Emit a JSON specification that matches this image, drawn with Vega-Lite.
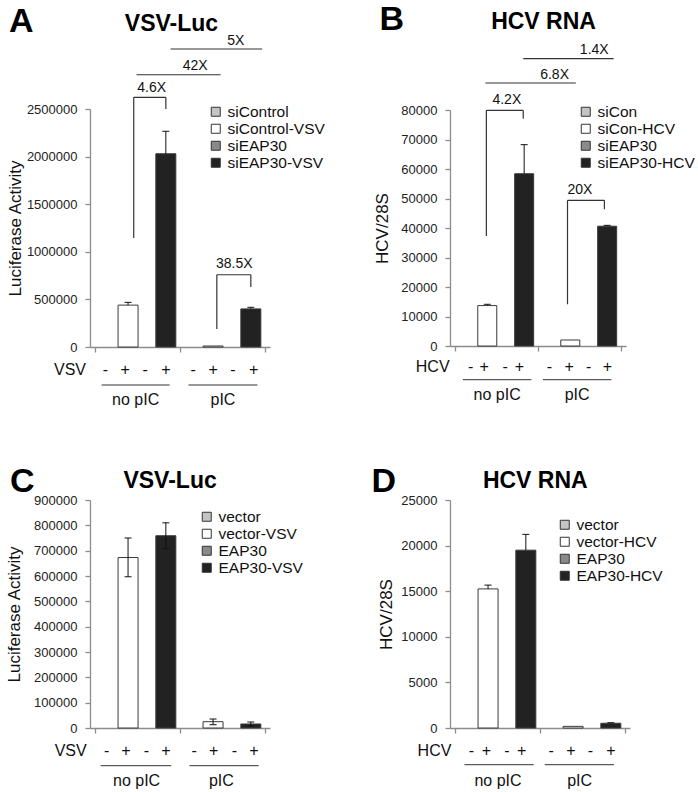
{
"$schema":"https://vega.github.io/schema/vega-lite/v6.json",
"background":"white",
"padding":{"left":5,"top":2,"right":0,"bottom":0},
"config":{
 "font":"Liberation Sans",
 "view":{"stroke":null},
 "axis":{"domainColor":"#8c8c8c","domainWidth":1.3,"tickColor":"#8c8c8c","tickWidth":1.3,"tickSize":5,"labelFontSize":13,"labelColor":"#222","labelPadding":8,"titleFontSize":17,"titleFontWeight":"normal","titleColor":"#111","grid":false},
 "legend":{"labelFontSize":15.5,"labelColor":"#111","symbolType":"square","symbolSize":81,"symbolStrokeColor":"#333","symbolStrokeWidth":1,"labelOffset":4,"rowPadding":0,"padding":0}
},
"datasets":{
 "A_bars":[
  {"group":"no pIC","series":"siControl","x":1.5,"y":0,"lo":0,"hi":0},
  {"group":"no pIC","series":"siControl-VSV","x":3.5,"y":440000,"lo":440000,"hi":469000},
  {"group":"no pIC","series":"siEAP30","x":5.5,"y":0,"lo":0,"hi":0},
  {"group":"no pIC","series":"siEAP30-VSV","x":7.5,"y":2030000,"lo":2030000,"hi":2266000},
  {"group":"pIC","series":"siControl","x":10.5,"y":0,"lo":0,"hi":0},
  {"group":"pIC","series":"siControl-VSV","x":12.5,"y":10400,"lo":10400,"hi":10400},
  {"group":"pIC","series":"siEAP30","x":14.5,"y":0,"lo":0,"hi":0},
  {"group":"pIC","series":"siEAP30-VSV","x":16.5,"y":400000,"lo":400000,"hi":417000}
 ],
 "A_br":[
  {"x":4.1,"y":1145000,"x2":4.1,"y2":2623000},
  {"x":4.1,"y":2623000,"x2":7.5,"y2":2623000},
  {"x":7.5,"y":2623000,"x2":7.5,"y2":2500000},
  {"x":4.4,"y":2860000,"x2":13.3,"y2":2860000},
  {"x":8.0,"y":3130000,"x2":17.7,"y2":3130000},
  {"x":12.9,"y":189000,"x2":12.9,"y2":759000},
  {"x":12.9,"y":759000,"x2":16.5,"y2":759000},
  {"x":16.5,"y":759000,"x2":16.5,"y2":630000}
 ],
 "A_ann":[
  {"x":6.0,"y":2720000,"t":"4.6X"},
  {"x":10.6,"y":2952000,"t":"42X"},
  {"x":14.9,"y":3214000,"t":"5X"},
  {"x":14.75,"y":872000,"t":"38.5X"}
 ],
 "A_below":[
  {"x":-2.65,"y":-241600,"t":"VSV"},
  {"x":1.1,"y":-241600,"t":"-"},{"x":3.2,"y":-241600,"t":"+"},{"x":5.3,"y":-241600,"t":"-"},{"x":7.5,"y":-241600,"t":"+"},
  {"x":10.4,"y":-241600,"t":"-"},{"x":12.5,"y":-241600,"t":"+"},{"x":14.6,"y":-241600,"t":"-"},{"x":16.8,"y":-241600,"t":"+"},
  {"x":4.3,"y":-556700,"t":"no pIC"},{"x":13.55,"y":-556700,"t":"pIC"}
 ],
 "A_lines":[{"x":0.7,"x2":7.9,"y":-399200},{"x":9.9,"x2":17.2,"y":-399200}],
 "B_bars":[
  {"group":"no pIC","series":"siCon","x":1.5,"y":0,"lo":0,"hi":0},
  {"group":"no pIC","series":"siCon-HCV","x":3.5,"y":13700,"lo":13700,"hi":14140},
  {"group":"no pIC","series":"siEAP30","x":5.5,"y":0,"lo":0,"hi":0},
  {"group":"no pIC","series":"siEAP30-HCV","x":7.5,"y":58400,"lo":58400,"hi":68250},
  {"group":"pIC","series":"siCon","x":10.5,"y":0,"lo":0,"hi":0},
  {"group":"pIC","series":"siCon-HCV","x":12.5,"y":2030,"lo":2030,"hi":2030},
  {"group":"pIC","series":"siEAP30","x":14.5,"y":0,"lo":0,"hi":0},
  {"group":"pIC","series":"siEAP30-HCV","x":16.5,"y":40600,"lo":40600,"hi":40900}
 ],
 "B_br":[
  {"x":3.4,"y":37290,"x2":3.4,"y2":79900},
  {"x":3.4,"y":79900,"x2":7.4,"y2":79900},
  {"x":7.4,"y":79900,"x2":7.4,"y2":77050},
  {"x":3.3,"y":89150,"x2":13.1,"y2":89150},
  {"x":7.4,"y":97400,"x2":17.2,"y2":97400},
  {"x":12.2,"y":14140,"x2":12.2,"y2":49390},
  {"x":12.2,"y":49390,"x2":16.2,"y2":49390},
  {"x":16.2,"y":49390,"x2":16.2,"y2":46340}
 ],
 "B_ann":[
  {"x":5.62,"y":83390,"t":"4.2X"},
  {"x":10.8,"y":91970,"t":"6.8X"},
  {"x":15.1,"y":100240,"t":"1.4X"},
  {"x":13.55,"y":52780,"t":"20X"}
 ],
 "B_below":[
  {"x":-2.42,"y":-7119,"t":"HCV"},
  {"x":1.71,"y":-7119,"t":"-"},{"x":3.17,"y":-7119,"t":"+"},{"x":5.45,"y":-7119,"t":"-"},{"x":6.99,"y":-7119,"t":"+"},
  {"x":10.23,"y":-7119,"t":"-"},{"x":12.38,"y":-7119,"t":"+"},{"x":14.49,"y":-7119,"t":"-"},{"x":16.54,"y":-7119,"t":"+"},
  {"x":4.57,"y":-16510,"t":"no pIC"},{"x":13.24,"y":-16510,"t":"pIC"}
 ],
 "B_lines":[{"x":0.85,"x2":8.28,"y":-11420},{"x":9.54,"x2":16.95,"y":-11420}],
 "C_bars":[
  {"group":"no pIC","series":"vector","x":1.5,"y":0,"lo":0,"hi":0},
  {"group":"no pIC","series":"vector-VSV","x":3.5,"y":673000,"lo":597000,"hi":750000},
  {"group":"no pIC","series":"EAP30","x":5.5,"y":0,"lo":0,"hi":0},
  {"group":"no pIC","series":"EAP30-VSV","x":7.5,"y":759000,"lo":708000,"hi":810000},
  {"group":"pIC","series":"vector","x":10.5,"y":0,"lo":0,"hi":0},
  {"group":"pIC","series":"vector-VSV","x":12.5,"y":24900,"lo":13000,"hi":35500},
  {"group":"pIC","series":"EAP30","x":14.5,"y":0,"lo":0,"hi":0},
  {"group":"pIC","series":"EAP30-VSV","x":16.5,"y":15800,"lo":8000,"hi":23700}
 ],
 "C_below":[
  {"x":-2.58,"y":-89600,"t":"VSV"},
  {"x":1.23,"y":-89600,"t":"-"},{"x":3.27,"y":-89600,"t":"+"},{"x":5.43,"y":-89600,"t":"-"},{"x":7.5,"y":-89600,"t":"+"},
  {"x":10.5,"y":-89600,"t":"-"},{"x":12.57,"y":-89600,"t":"+"},{"x":14.77,"y":-89600,"t":"-"},{"x":16.83,"y":-89600,"t":"+"},
  {"x":4.4,"y":-208000,"t":"no pIC"},{"x":13.38,"y":-208000,"t":"pIC"}
 ],
 "C_lines":[{"x":0.6,"x2":8.07,"y":-148800},{"x":10.0,"x2":17.33,"y":-148800}],
 "D_bars":[
  {"group":"no pIC","series":"vector","x":1.5,"y":0,"lo":0,"hi":0},
  {"group":"no pIC","series":"vector-HCV","x":3.5,"y":15250,"lo":15250,"hi":15670},
  {"group":"no pIC","series":"EAP30","x":5.5,"y":0,"lo":0,"hi":0},
  {"group":"no pIC","series":"EAP30-HCV","x":7.5,"y":19500,"lo":19500,"hi":21230},
  {"group":"pIC","series":"vector","x":10.5,"y":0,"lo":0,"hi":0},
  {"group":"pIC","series":"vector-HCV","x":12.5,"y":180,"lo":180,"hi":180},
  {"group":"pIC","series":"EAP30","x":14.5,"y":0,"lo":0,"hi":0},
  {"group":"pIC","series":"EAP30-HCV","x":16.5,"y":520,"lo":520,"hi":580}
 ],
 "D_below":[
  {"x":-2.17,"y":-2489,"t":"HCV"},
  {"x":1.73,"y":-2489,"t":"-"},{"x":3.33,"y":-2489,"t":"+"},{"x":5.5,"y":-2489,"t":"-"},{"x":7.07,"y":-2489,"t":"+"},
  {"x":10.17,"y":-2489,"t":"-"},{"x":12.27,"y":-2489,"t":"+"},{"x":14.33,"y":-2489,"t":"-"},{"x":16.5,"y":-2489,"t":"+"},
  {"x":4.55,"y":-5779,"t":"no pIC"},{"x":13.2,"y":-5779,"t":"pIC"}
 ],
 "D_lines":[{"x":1.0,"x2":8.33,"y":-4024},{"x":9.5,"x2":16.83,"y":-4024}]
},
"columns":2,
"spacing":{"row":153,"column":180},
"bounds":"flush",
"center":{"row":true,"column":false},
"resolve":{"scale":{"fill":"independent"},"legend":{"fill":"independent"}},
"concat":[
 {
  "width":180,"height":238,
  "encoding":{
   "x":{"field":"x","type":"quantitative","scale":{"domain":[0,18],"nice":false,"zero":false},"axis":{"values":[0,9,18],"labels":false,"title":null}},
   "y":{"field":"y","type":"quantitative","scale":{"domain":[0,2500000],"nice":false},"axis":{"values":[0,500000,1000000,1500000,2000000,2500000],"format":"d","title":"Luciferase Activity","titlePadding":2}}
  },
  "layer":[
   {"data":{"name":"A_bars"},"transform":[{"filter":"datum.y > 0"}],"mark":{"type":"bar","size":20,"stroke":"#3a3a3a","strokeWidth":1},
    "encoding":{"fill":{"field":"series","type":"nominal","scale":{"domain":["siControl","siControl-VSV","siEAP30","siEAP30-VSV"],"range":["#c4c4c4","#ffffff","#8a8a8a","#222222"]},"legend":{"title":null,"orient":"none","legendX":118,"legendY":-5}}}},
   {"data":{"name":"A_bars"},"transform":[{"filter":"datum.hi > datum.lo"}],"mark":{"type":"rule","color":"#111","strokeWidth":1},"encoding":{"y":{"field":"lo","type":"quantitative","axis":{"values":[0,500000,1000000,1500000,2000000,2500000],"format":"d","title":"Luciferase Activity","titlePadding":2}},"y2":{"field":"hi"}}},
   {"data":{"name":"A_bars"},"transform":[{"filter":"datum.hi > datum.lo"}],"mark":{"type":"tick","orient":"horizontal","size":7,"thickness":1,"color":"#111","opacity":1},"encoding":{"y":{"field":"hi","type":"quantitative","axis":{"values":[0,500000,1000000,1500000,2000000,2500000],"format":"d","title":"Luciferase Activity","titlePadding":2}}}},
   {"data":{"name":"A_br"},"mark":{"type":"rule","color":"#333","strokeWidth":1.2},"encoding":{"x2":{"field":"x2"},"y2":{"field":"y2"}}},
   {"data":{"name":"A_ann"},"mark":{"type":"text","fontSize":14,"color":"#111","baseline":"middle","align":"center"},"encoding":{"text":{"field":"t"}}},
   {"data":{"values":[{"x":8.1,"y":3319300,"t":"VSV-Luc"}]},"mark":{"type":"text","fontSize":23,"fontWeight":"bold","baseline":"alphabetic","align":"center","color":"#000"},"encoding":{"text":{"field":"t"}}},
   {"data":{"values":[{"x":-9.1,"y":3308800,"t":"A"}]},"mark":{"type":"text","fontSize":34,"fontWeight":"bold","baseline":"alphabetic","align":"left","color":"#000"},"encoding":{"text":{"field":"t"}}},
   {"data":{"name":"A_below"},"mark":{"type":"text","fontSize":16,"baseline":"middle","align":"center","color":"#111"},"encoding":{"text":{"field":"t"}}},
   {"data":{"name":"A_lines"},"mark":{"type":"rule","color":"#333","strokeWidth":1},"encoding":{"x2":{"field":"x2"}}}
  ]
 },
 {
  "width":176,"height":236,
  "encoding":{
   "x":{"field":"x","type":"quantitative","scale":{"domain":[0,18],"nice":false,"zero":false},"axis":{"values":[0,9,18],"labels":false,"title":null}},
   "y":{"field":"y","type":"quantitative","scale":{"domain":[0,80000],"nice":false},"axis":{"values":[0,10000,20000,30000,40000,50000,60000,70000,80000],"format":"d","title":"HCV/28S","titlePadding":9}}
  },
  "layer":[
   {"data":{"name":"B_bars"},"transform":[{"filter":"datum.y > 0"}],"mark":{"type":"bar","size":19,"stroke":"#3a3a3a","strokeWidth":1},
    "encoding":{"fill":{"field":"series","type":"nominal","scale":{"domain":["siCon","siCon-HCV","siEAP30","siEAP30-HCV"],"range":["#c4c4c4","#ffffff","#8a8a8a","#222222"]},"legend":{"title":null,"orient":"none","legendX":128,"legendY":-6}}}},
   {"data":{"name":"B_bars"},"transform":[{"filter":"datum.hi > datum.lo"}],"mark":{"type":"rule","color":"#111","strokeWidth":1},"encoding":{"y":{"field":"lo","type":"quantitative","axis":{"values":[0,10000,20000,30000,40000,50000,60000,70000,80000],"format":"d","title":"HCV/28S","titlePadding":9}},"y2":{"field":"hi"}}},
   {"data":{"name":"B_bars"},"transform":[{"filter":"datum.hi > datum.lo"}],"mark":{"type":"tick","orient":"horizontal","size":7,"thickness":1,"color":"#111","opacity":1},"encoding":{"y":{"field":"hi","type":"quantitative","axis":{"values":[0,10000,20000,30000,40000,50000,60000,70000,80000],"format":"d","title":"HCV/28S","titlePadding":9}}}},
   {"data":{"name":"B_br"},"mark":{"type":"rule","color":"#333","strokeWidth":1.2},"encoding":{"x2":{"field":"x2"},"y2":{"field":"y2"}}},
   {"data":{"name":"B_ann"},"mark":{"type":"text","fontSize":14,"color":"#111","baseline":"middle","align":"center"},"encoding":{"text":{"field":"t"}}},
   {"data":{"values":[{"x":9.6,"y":107460,"t":"HCV RNA"}]},"mark":{"type":"text","fontSize":23,"fontWeight":"bold","baseline":"alphabetic","align":"center","color":"#000"},"encoding":{"text":{"field":"t"}}},
   {"data":{"values":[{"x":-8.18,"y":107120,"t":"B"}]},"mark":{"type":"text","fontSize":34,"fontWeight":"bold","baseline":"alphabetic","align":"left","color":"#000"},"encoding":{"text":{"field":"t"}}},
   {"data":{"name":"B_below"},"mark":{"type":"text","fontSize":16,"baseline":"middle","align":"center","color":"#111"},"encoding":{"text":{"field":"t"}}},
   {"data":{"name":"B_lines"},"mark":{"type":"rule","color":"#333","strokeWidth":1},"encoding":{"x2":{"field":"x2"}}}
  ]
 },
 {
  "width":180,"height":228,
  "encoding":{
   "x":{"field":"x","type":"quantitative","scale":{"domain":[0,18],"nice":false,"zero":false},"axis":{"values":[0,9,18],"labels":false,"title":null}},
   "y":{"field":"y","type":"quantitative","scale":{"domain":[0,900000],"nice":false},"axis":{"values":[0,100000,200000,300000,400000,500000,600000,700000,800000,900000],"format":"d","title":"Luciferase Activity","titlePadding":10}}
  },
  "layer":[
   {"data":{"name":"C_bars"},"transform":[{"filter":"datum.y > 0"}],"mark":{"type":"bar","size":20,"stroke":"#3a3a3a","strokeWidth":1},
    "encoding":{"fill":{"field":"series","type":"nominal","scale":{"domain":["vector","vector-VSV","EAP30","EAP30-VSV"],"range":["#c4c4c4","#ffffff","#8a8a8a","#222222"]},"legend":{"title":null,"orient":"none","legendX":109,"legendY":9}}}},
   {"data":{"name":"C_bars"},"transform":[{"filter":"datum.hi > datum.lo"}],"mark":{"type":"rule","color":"#111","strokeWidth":1},"encoding":{"y":{"field":"lo","type":"quantitative","axis":{"values":[0,100000,200000,300000,400000,500000,600000,700000,800000,900000],"format":"d","title":"Luciferase Activity","titlePadding":10}},"y2":{"field":"hi"}}},
   {"data":{"name":"C_bars"},"transform":[{"filter":"datum.hi > datum.lo"}],"mark":{"type":"tick","orient":"horizontal","size":7,"thickness":1,"color":"#111","opacity":1},"encoding":{"y":{"field":"hi","type":"quantitative","axis":{"values":[0,100000,200000,300000,400000,500000,600000,700000,800000,900000],"format":"d","title":"Luciferase Activity","titlePadding":10}}}},
   {"data":{"name":"C_bars"},"transform":[{"filter":"datum.hi > datum.lo"}],"mark":{"type":"tick","orient":"horizontal","size":7,"thickness":1,"color":"#111","opacity":1},"encoding":{"y":{"field":"lo","type":"quantitative","axis":{"values":[0,100000,200000,300000,400000,500000,600000,700000,800000,900000],"format":"d","title":"Luciferase Activity","titlePadding":10}}}},
   {"data":{"values":[{"x":7.95,"y":946200,"t":"VSV-Luc"}]},"mark":{"type":"text","fontSize":23,"fontWeight":"bold","baseline":"alphabetic","align":"center","color":"#000"},"encoding":{"text":{"field":"t"}}},
   {"data":{"values":[{"x":-9.0,"y":931600,"t":"C"}]},"mark":{"type":"text","fontSize":34,"fontWeight":"bold","baseline":"alphabetic","align":"left","color":"#000"},"encoding":{"text":{"field":"t"}}},
   {"data":{"name":"C_below"},"mark":{"type":"text","fontSize":16,"baseline":"middle","align":"center","color":"#111"},"encoding":{"text":{"field":"t"}}},
   {"data":{"name":"C_lines"},"mark":{"type":"rule","color":"#333","strokeWidth":1},"encoding":{"x2":{"field":"x2"}}}
  ]
 },
 {
  "width":180,"height":228,
  "encoding":{
   "x":{"field":"x","type":"quantitative","scale":{"domain":[0,18],"nice":false,"zero":false},"axis":{"values":[0,9,18],"labels":false,"title":null}},
   "y":{"field":"y","type":"quantitative","scale":{"domain":[0,25000],"nice":false},"axis":{"values":[0,5000,10000,15000,20000,25000],"format":"d","title":"HCV/28S","titlePadding":5}}
  },
  "layer":[
   {"data":{"name":"D_bars"},"transform":[{"filter":"datum.y > 0"}],"mark":{"type":"bar","size":20,"stroke":"#3a3a3a","strokeWidth":1},
    "encoding":{"fill":{"field":"series","type":"nominal","scale":{"domain":["vector","vector-HCV","EAP30","EAP30-HCV"],"range":["#c4c4c4","#ffffff","#8a8a8a","#222222"]},"legend":{"title":null,"orient":"none","legendX":107,"legendY":17}}}},
   {"data":{"name":"D_bars"},"transform":[{"filter":"datum.hi > datum.lo"}],"mark":{"type":"rule","color":"#111","strokeWidth":1},"encoding":{"y":{"field":"lo","type":"quantitative","axis":{"values":[0,5000,10000,15000,20000,25000],"format":"d","title":"HCV/28S","titlePadding":5}},"y2":{"field":"hi"}}},
   {"data":{"name":"D_bars"},"transform":[{"filter":"datum.hi > datum.lo"}],"mark":{"type":"tick","orient":"horizontal","size":7,"thickness":1,"color":"#111","opacity":1},"encoding":{"y":{"field":"hi","type":"quantitative","axis":{"values":[0,5000,10000,15000,20000,25000],"format":"d","title":"HCV/28S","titlePadding":5}}}},
   {"data":{"values":[{"x":8.5,"y":26280,"t":"HCV RNA"}]},"mark":{"type":"text","fontSize":23,"fontWeight":"bold","baseline":"alphabetic","align":"center","color":"#000"},"encoding":{"text":{"field":"t"}}},
   {"data":{"values":[{"x":-8.83,"y":25880,"t":"D"}]},"mark":{"type":"text","fontSize":34,"fontWeight":"bold","baseline":"alphabetic","align":"left","color":"#000"},"encoding":{"text":{"field":"t"}}},
   {"data":{"name":"D_below"},"mark":{"type":"text","fontSize":16,"baseline":"middle","align":"center","color":"#111"},"encoding":{"text":{"field":"t"}}},
   {"data":{"name":"D_lines"},"mark":{"type":"rule","color":"#333","strokeWidth":1},"encoding":{"x2":{"field":"x2"}}}
  ]
 }
]
}
